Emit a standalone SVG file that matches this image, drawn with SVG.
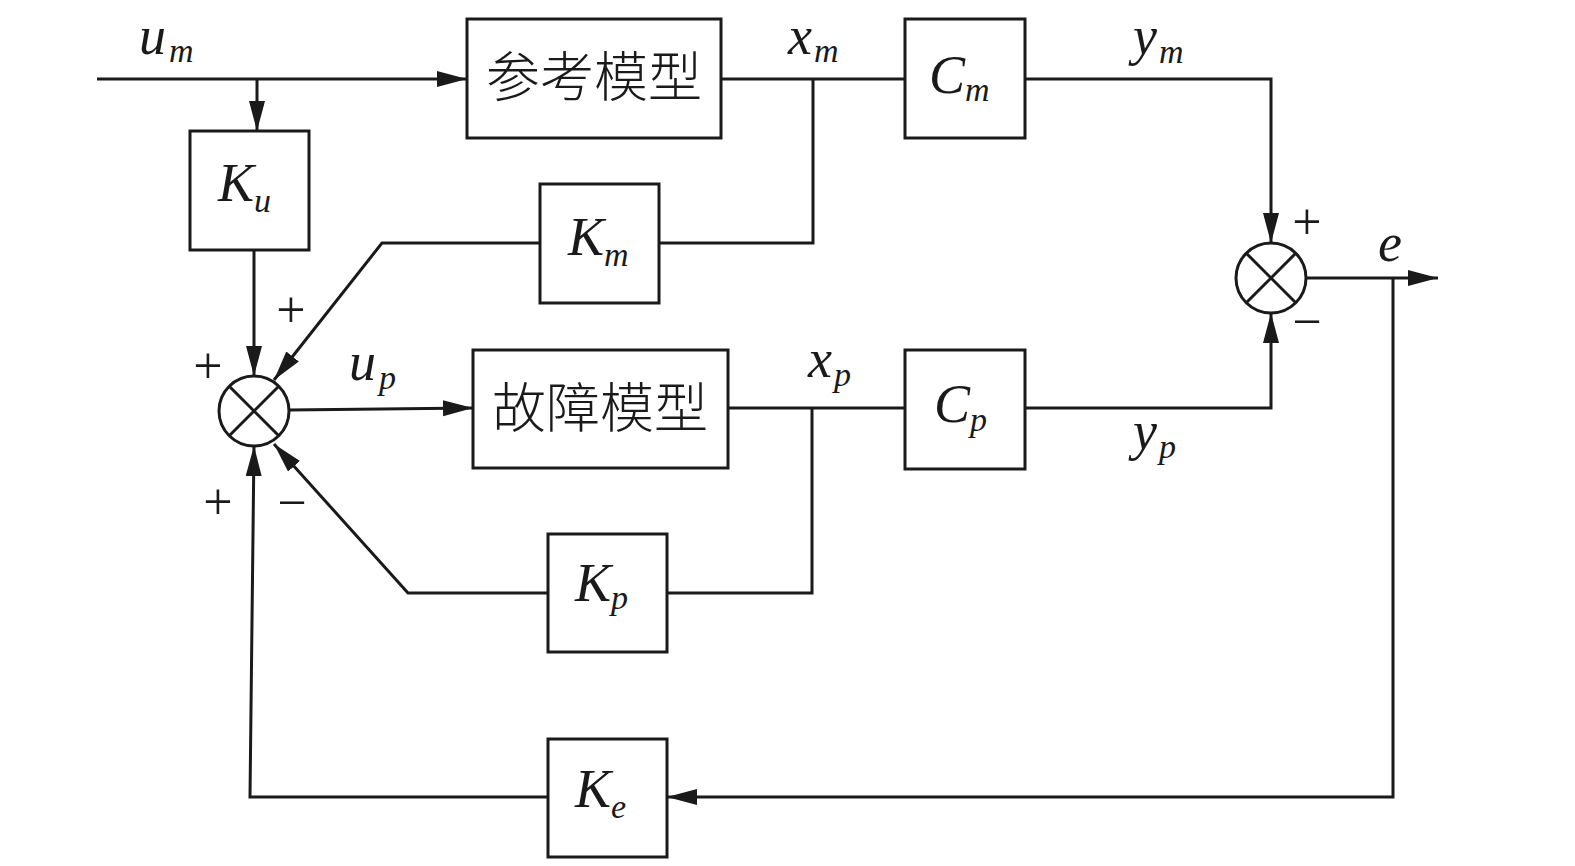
<svg xmlns="http://www.w3.org/2000/svg" width="1575" height="866" viewBox="0 0 1575 866">
<defs>
<marker id="arr" markerUnits="userSpaceOnUse" markerWidth="32" markerHeight="18" refX="30" refY="8" orient="auto">
<path d="M0,0 L30,8 L0,16 Z" fill="#1a1a1a"/>
</marker>
<style>
.box{fill:#fff;stroke:#1a1a1a;stroke-width:3}
.ln{fill:none;stroke:#1a1a1a;stroke-width:3}
.v{font-family:"Liberation Serif","Times New Roman",serif;font-style:italic;fill:#1a1a1a}
.big{font-size:54px}
.sub{font-size:34px}
.cn{font-family:"Noto Sans CJK SC","Noto Sans CJK JP",sans-serif;font-size:54px;fill:#1a1a1a;font-weight:300}
.sg{font-family:"Liberation Serif","Times New Roman",serif;font-size:52px;fill:#1a1a1a;text-anchor:middle}
</style>
</defs>
<rect width="1575" height="866" fill="#fff"/>

<g id="connectors">
<path class="ln" d="M97,79 L467,79" marker-end="url(#arr)"/>
<path class="ln" d="M257,79 L257,131" marker-end="url(#arr)"/>
<path class="ln" d="M254,250 L254,376" marker-end="url(#arr)"/>
<path class="ln" d="M721,79 L905,79"/>
<path class="ln" d="M813,79 L813,243 L659,243"/>
<path class="ln" d="M540,243 L382,243 L274,380" marker-end="url(#arr)"/>
<path class="ln" d="M1025,79 L1271,79 L1271,243" marker-end="url(#arr)"/>
<path class="ln" d="M289,410 L473,408" marker-end="url(#arr)"/>
<path class="ln" d="M728,408 L905,408"/>
<path class="ln" d="M812,408 L812,593 L667,593"/>
<path class="ln" d="M548,593 L408,593 L274,444" marker-end="url(#arr)"/>
<path class="ln" d="M1025,408 L1271,408 L1271,313" marker-end="url(#arr)"/>
<path class="ln" d="M1306,278 L1438,278" marker-end="url(#arr)"/>
<path class="ln" d="M1393,278 L1393,797 L667,797" marker-end="url(#arr)"/>
<path class="ln" d="M548,797 L250,797 L254,446" marker-end="url(#arr)"/>
</g>

<text class="v big" x="139" y="54">u<tspan class="sub" dx="3" dy="8">m</tspan></text>
<text class="v big" x="788" y="54">x<tspan class="sub" dx="2" dy="8">m</tspan></text>
<text class="v big" x="1133" y="54">y<tspan class="sub" dx="2" dy="9">m</tspan></text>
<text class="v big" x="349" y="380">u<tspan class="sub" dx="3" dy="9">p</tspan></text>
<text class="v big" x="808" y="377">x<tspan class="sub" dx="2" dy="9">p</tspan></text>
<text class="v big" x="1133" y="449">y<tspan class="sub" dx="2" dy="9">p</tspan></text>
<text class="v big" x="1378" y="261">e</text>

<text class="sg" x="291" y="327">+</text>
<text class="sg" x="208" y="383">+</text>
<text class="sg" x="218" y="519">+</text>
<text class="sg" x="292" y="520">−</text>
<text class="sg" x="1307" y="239">+</text>
<text class="sg" x="1307" y="339">−</text>

<g id="ref-model">
<rect class="box" x="467" y="19" width="254" height="119"/>
<text class="cn" x="594" y="97" text-anchor="middle">参考模型</text>
</g>
<g id="fault-model">
<rect class="box" x="473" y="350" width="255" height="118"/>
<text class="cn" x="600" y="428" text-anchor="middle">故障模型</text>
</g>
<g id="Cm">
<rect class="box" x="905" y="19" width="120" height="119"/>
<text class="v big" x="929" y="93">C<tspan class="sub" dx="0" dy="8">m</tspan></text>
</g>
<g id="Cp">
<rect class="box" x="905" y="350" width="120" height="119"/>
<text class="v big" x="934" y="422">C<tspan class="sub" dx="0" dy="9">p</tspan></text>
</g>
<g id="Ku">
<rect class="box" x="190" y="131" width="119" height="119"/>
<text class="v big" x="218" y="201">K<tspan class="sub" dx="0" dy="11">u</tspan></text>
</g>
<g id="Km">
<rect class="box" x="540" y="184" width="119" height="119"/>
<text class="v big" x="568" y="255">K<tspan class="sub" dx="0" dy="11">m</tspan></text>
</g>
<g id="Kp">
<rect class="box" x="548" y="534" width="119" height="118"/>
<text class="v big" x="575" y="601">K<tspan class="sub" dx="0" dy="8">p</tspan></text>
</g>
<g id="Ke">
<rect class="box" x="548" y="739" width="119" height="118"/>
<text class="v big" x="575" y="807">K<tspan class="sub" dx="0" dy="11">e</tspan></text>
</g>
<g id="sum1">
<circle class="ln" cx="254" cy="411" r="35" fill="#fff"/>
<path class="ln" d="M229,386 L279,436 M279,386 L229,436"/>
</g>
<g id="sum2">
<circle class="ln" cx="1271" cy="278" r="35" fill="#fff"/>
<path class="ln" d="M1246,253 L1296,303 M1296,253 L1246,303"/>
</g>
</svg>
